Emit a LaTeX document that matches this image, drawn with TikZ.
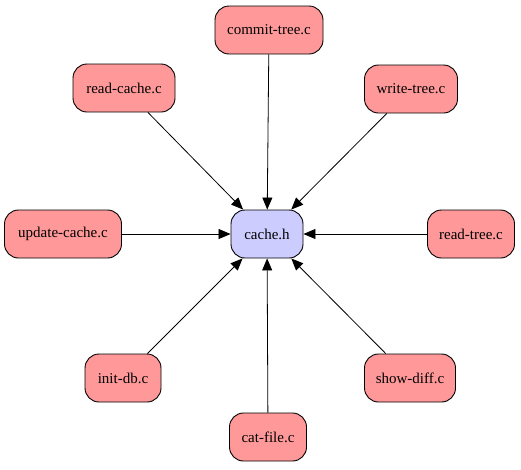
\documentclass[tikz,border=0pt]{standalone}
\usepackage{fontspec}
\setmainfont{Liberation Serif}
\usetikzlibrary{arrows.meta}
\definecolor{srcfill}{HTML}{FF9999}
\definecolor{hdrfill}{HTML}{CCCCFF}
\begin{document}
\begin{tikzpicture}[x=1pt,y=-1pt,
  box/.style={draw=black, line width=0.9pt, rounded corners=14pt, fill=srcfill,
    minimum height=48pt, inner xsep=9pt, font=\fontsize{15}{17}\selectfont},
  hdr/.style={box, fill=hdrfill},
  dep/.style={-{Triangle[length=12pt,width=10pt]}, line width=0.8pt}]
\useasboundingbox (0,0) rectangle (521,469);
\node[hdr, minimum width=72pt] (cache) at (267,234) {cache.h};
\node[box, minimum width=108pt] (commit) at (269,30) {commit-tree.c};
\node[box, minimum width=102pt] (readcache) at (124,88) {read-cache.c};
\node[box, minimum width=93pt] (writetree) at (411,89) {write-tree.c};
\node[box, minimum width=117pt] (update) at (63,234) {update-cache.c};
\node[box, minimum width=87pt] (readtree) at (471,234) {read-tree.c};
\node[box, minimum width=76pt] (initdb) at (123,378) {init-db.c};
\node[box, minimum width=91pt] (showdiff) at (410,378) {show-diff.c};
\node[box, minimum width=77pt] (catfile) at (268,437) {cat-file.c};
\foreach \s in {commit,readcache,writetree,update,readtree,initdb,showdiff,catfile}
  \draw[dep] (\s) -- (cache);
\end{tikzpicture}
\end{document}
